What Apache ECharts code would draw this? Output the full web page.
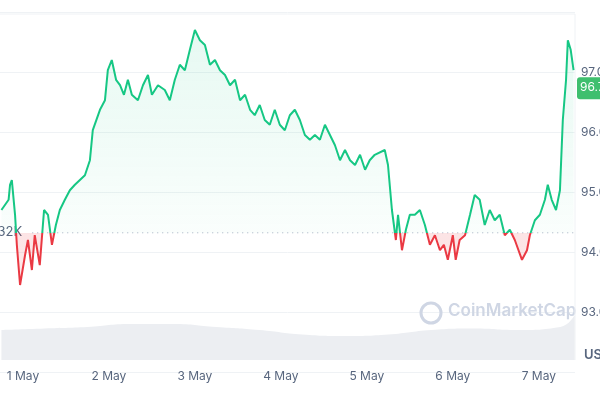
<!DOCTYPE html><html><head><meta charset="utf-8"><script src="https://cdn.jsdelivr.net/npm/echarts@6/dist/echarts.min.js"></script>
<style>html,body{margin:0;padding:0;background:#fff}#c{width:600px;height:400px}</style></head><body><div id="c"></div>
<script>
const hours=[-6.0,-4.0,-3.6,-3.1,-2.2,-1.7,-0.8,0.6,1.4,2.5,3.3,4.7,5.9,7.0,8.1,9.2,10.3,11.7,13.1,14.5,15.9,17.3,18.7,19.5,21.5,22.9,23.7,24.8,26.0,27.1,28.2,29.3,30.4,32.1,33.5,34.9,36.0,37.7,39.6,41.0,42.4,43.8,45.2,46.6,48.0,49.4,50.8,52.2,53.6,55.0,56.4,57.8,59.2,60.6,62.0,63.4,64.7,66.1,67.5,68.9,70.3,71.7,73.1,74.5,75.9,77.3,78.7,80.1,81.5,82.9,84.3,85.7,87.1,88.5,89.9,91.3,92.7,94.1,95.5,96.8,98.2,101.0,101.9,103.0,104.1,104.7,105.8,106.9,108.0,109.4,110.8,112.2,113.6,115.0,116.4,117.5,118.6,120.0,120.8,121.9,123.4,124.8,126.1,127.5,128.9,130.3,131.7,133.1,134.5,135.9,137.3,139.3,140.7,141.5,142.9,144.3,145.7,146.5,147.6,148.8,149.9,150.7,151.6,152.1,152.9,153.7];
const prices=[94.70,94.87,95.12,95.20,94.62,94.12,93.45,93.95,94.20,93.70,94.28,93.78,94.70,94.62,94.12,94.45,94.70,94.87,95.03,95.12,95.20,95.28,95.53,96.03,96.37,96.53,97.03,97.20,96.87,96.78,96.62,96.87,96.62,96.53,96.78,96.95,96.62,96.78,96.70,96.53,96.87,97.12,97.03,97.37,97.70,97.53,97.45,97.12,97.20,97.03,96.95,96.78,96.87,96.53,96.62,96.37,96.28,96.45,96.20,96.12,96.37,96.12,96.03,96.28,96.37,96.20,95.95,95.87,95.95,95.87,96.12,95.95,95.78,95.53,95.70,95.53,95.45,95.62,95.37,95.53,95.62,95.70,95.45,94.70,94.20,94.62,94.03,94.37,94.62,94.62,94.70,94.45,94.12,94.28,94.03,94.12,93.87,94.28,93.87,94.20,94.28,94.62,94.95,94.87,94.45,94.70,94.53,94.62,94.28,94.37,94.20,93.87,94.03,94.28,94.53,94.62,94.87,95.12,94.87,94.70,95.03,96.20,96.87,97.53,97.37,97.03];
const volHours=[-6,6,18,30,42,54,66,78,90,102,114,126,138,150,154];
const volumes=[1.0,1.05,1.1,1.2,1.2,1.1,1.0,0.85,0.8,0.85,1.0,1.05,1.0,1.1,1.5];
const dayLabels=['1 May','2 May','3 May','4 May','5 May','6 May','7 May'];
const dayHours=[0,24,48,72,96,120,144];
const base=94.32, last=96.73;
const xMin=-6.4, xMax=154.1;
const priceData=hours.map((h,i)=>[h,prices[i]]);
const ch=echarts.init(document.getElementById('c'));
ch.setOption({
 animation:false,
 grid:[{left:0,right:25,top:12,bottom:28,outerBoundsMode:'none'},{left:0,right:25,top:312,bottom:40,outerBoundsMode:'none'}],
 xAxis:[{type:'value',min:xMin,max:xMax,gridIndex:0,axisLine:{show:false},axisTick:{show:false,customValues:dayHours},splitLine:{show:false},
   axisLabel:{customValues:dayHours,formatter:v=>dayLabels[dayHours.indexOf(v)],color:'#58667e',fontSize:12,fontFamily:'Inter',margin:-2}},
  {type:'value',min:xMin,max:xMax,gridIndex:1,show:false}],
 yAxis:[{type:'value',min:92,max:98,interval:1,position:'right',gridIndex:0,
   splitLine:{lineStyle:{color:'#eff2f5'}},axisLine:{show:false},axisTick:{show:false},
   axisLabel:{formatter:v=>(v===92||v===98)?'':v.toFixed(2)+'K',color:'#58667e',fontSize:12,fontFamily:'Inter',margin:6,align:'left'}},
  {type:'value',min:0,max:1.6,gridIndex:1,show:false}],
 series:[
  {type:'line',z:4,data:priceData,showSymbol:false,lineStyle:{width:2,color:'#16c784'}},
  {type:'line',xAxisIndex:1,yAxisIndex:1,data:volHours.map((h,i)=>[h,volumes[i]]),showSymbol:false,smooth:true,
   lineStyle:{width:0},areaStyle:{color:'#eceef2',opacity:1},itemStyle:{color:'#eceef2'}},
  {type:'line',z:3,data:priceData,showSymbol:false,silent:true,lineStyle:{width:0},areaStyle:{origin:'start',color:'rgba(0,0,0,0)'}},
  {type:'line',z:3,data:priceData,showSymbol:false,silent:true,lineStyle:{width:0},areaStyle:{origin:'end',color:'rgba(0,0,0,0)'}},
  {type:'line',z:2,data:[[xMin+9,base],[xMax,base]],showSymbol:false,lineStyle:{type:[1,4],color:'#a6b0c3',width:1},itemStyle:{color:'#a6b0c3'}}
 ]
});
const p=ch.convertToPixel({xAxisIndex:0,yAxisIndex:0},[xMax,last]);
const b=ch.convertToPixel({xAxisIndex:0,yAxisIndex:0},[xMin,base]);
const H=400, o=b[1]/H, yTop=ch.convertToPixel({xAxisIndex:0,yAxisIndex:0},[xMin,98])[1]/H;
const g=(stops)=>({type:'linear',global:true,x:0,y:0,x2:0,y2:H,colorStops:stops});
ch.setOption({
 series:[
  {lineStyle:{color:g([{offset:0,color:'#16c784'},{offset:o,color:'#16c784'},{offset:o,color:'#ea3943'},{offset:1,color:'#ea3943'}])}},
  {},
  {areaStyle:{color:g([{offset:yTop,color:'rgba(22,199,132,0.16)'},{offset:o,color:'rgba(22,199,132,0.03)'},{offset:o,color:'rgba(22,199,132,0)'},{offset:1,color:'rgba(22,199,132,0)'}])}},
  {areaStyle:{color:g([{offset:0,color:'rgba(234,57,67,0)'},{offset:o,color:'rgba(234,57,67,0)'},{offset:o,color:'rgba(234,57,67,0.2)'},{offset:1,color:'rgba(234,57,67,0.05)'}])}}
 ],
 graphic:[
  {type:'rect',shape:{x:p[0]+2,y:p[1]-11,width:40,height:22,r:3},style:{fill:'#3fbf6e'}},
  {type:'text',x:p[0]+5,y:p[1]-7,style:{text:'96.73K',fill:'#fff',font:'12px Inter'}},
  {type:'text',x:b[0]-22,y:b[1]-7,style:{text:'94.32K',fill:'#58667e',font:'13px Inter'}},
  {type:'text',x:448,y:302,style:{text:'CoinMarketCap',fill:'#cfd6e4',font:'600 17px Inter'}},
  {type:'circle',shape:{cx:431,cy:313,r:10},style:{fill:'none',stroke:'#cfd6e4',lineWidth:3}},
  {type:'text',x:584,y:349,style:{text:'USD',fill:'#58667e',font:'600 13px Inter'}},
  {type:'line',shape:{x1:0,y1:14,x2:575,y2:14},style:{stroke:'#eff2f5'}},
  {type:'line',shape:{x1:575,y1:14,x2:575,y2:360},style:{stroke:'#eff2f5'}}]});
</script></body></html>
